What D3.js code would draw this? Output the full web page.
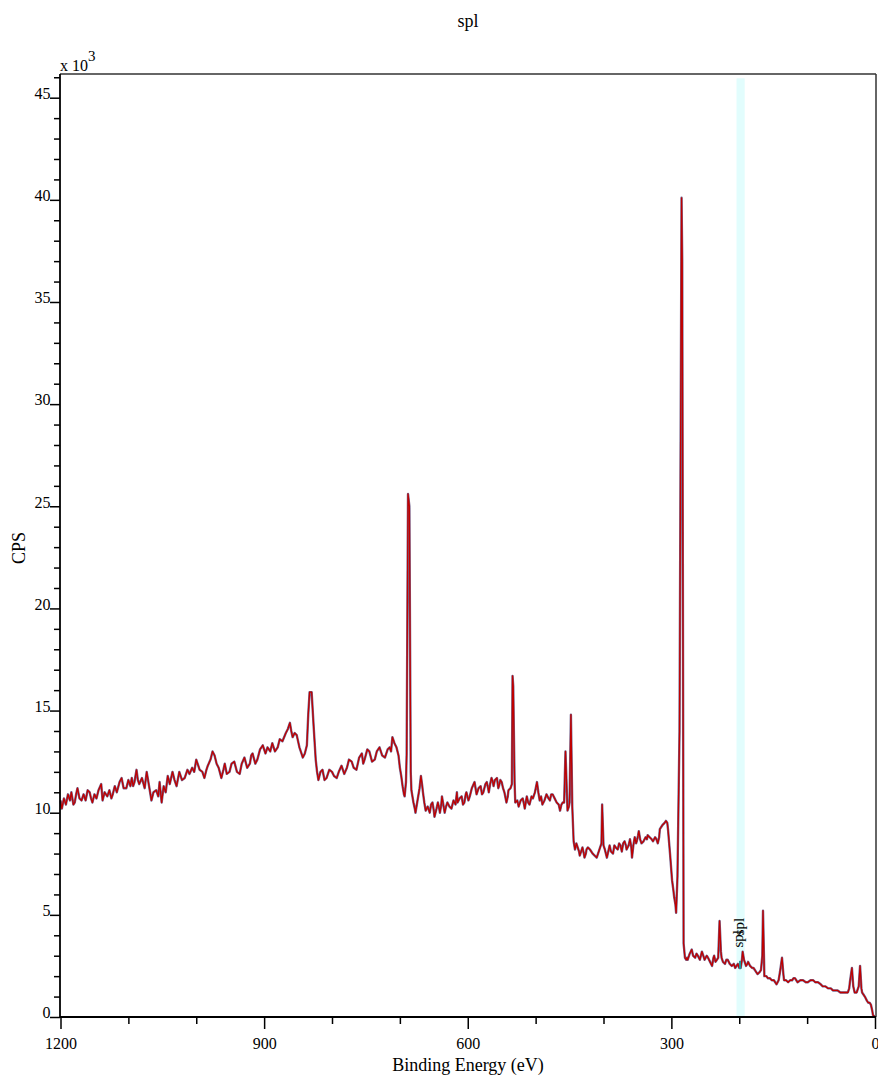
<!DOCTYPE html>
<html>
<head>
<meta charset="utf-8">
<script src="https://cdn.jsdelivr.net/npm/d3@7"></script>
<style>
  html, body { margin: 0; padding: 0; background: #fff; }
  svg { display: block; }
  text { font-family: "Liberation Serif", "Times New Roman", serif; fill: #000; }
</style>
</head>
<body>
<svg id="chart" width="878" height="1079"></svg>
<script>
// [binding energy (eV), intensity (CPS x 10^3)], in three spectral segments
const spectrumHigh = [
  [1200,10.6],[1198,10.2],[1195,10.7],[1192,10.4],[1189,10.9],[1186,10.6],[1184,11.0],[1181,10.4],[1179,10.5],[1177,10.9],
  [1175,11.2],[1172,10.7],[1169,10.6],[1166,10.9],[1163,10.6],[1160,11.1],[1157,11.0],[1155,10.7],[1153,10.5],[1150,10.9],
  [1147,10.7],[1144,11.1],[1140,11.4],[1138,10.6],[1135,11.0],[1131,10.8],[1128,11.1],[1125,10.7],[1123,10.9],[1120,11.3],
  [1117,11.0],[1113,11.5],[1110,11.7],[1107,11.2],[1103,11.2],[1100,11.6],[1097,11.3],[1095,11.7],[1093,11.3],[1091,11.5],
  [1088,12.1],[1086,11.6],[1084,11.4],[1080,11.7],[1076,11.2],[1073,12.0],[1070,11.4],[1068,11.0],[1066,10.6],[1063,11.0],
  [1059,11.1],[1056,10.8],[1054,11.5],[1051,10.5],[1048,11.3],[1045,11.0],[1042,11.8],[1039,11.4],[1035,12.0],[1032,11.6],
  [1029,11.3],[1025,12.0],[1021,11.6],[1017,11.7],[1013,12.1],[1010,11.9],[1006,12.2],[1003,12.0],[1000,12.6],[997,12.3],
  [995,12.1],[991,12.0],[988,11.7],[985,12.1],[983,12.3],[979,12.6],[976,13.0],[973,12.8],[970,12.4],[967,12.2],
  [963,11.7],[960,12.1],[958,12.4],[955,11.9],[951,12.0],[948,12.4],[944,12.5],[940,12.0],[936,11.9],[933,12.4],
  [929,12.7],[925,12.2],[921,12.4],[919,12.8],[917,12.9],[913,12.4],[910,12.6],[906,13.1],[902,13.3],[898,12.9],
  [895,13.2],[891,13.0],[888,13.4],[884,13.0],[880,13.2],[877,13.6],[873,13.5],[868,13.9],[865,14.1],[862,14.4],
  [860,14.0],[858,13.7],[855,13.9],[852,13.8],[848,13.2],[845,12.9],[843,12.7],[840,12.9],[837,13.3],[835,14.8],
  [833,15.9],[830,15.9],[827,14.2],[824,12.6],[822,12.0],[820,11.6],[817,12.0],[814,12.1],[811,11.6],[808,11.7],
  [804,12.1],[800,12.0],[797,11.8],[793,11.7],[790,12.0],[786,12.3],[782,11.9],[778,12.2],[775,12.6],[771,12.5],
  [768,12.2],[764,12.1],[760,12.7],[756,12.9],[754,12.4],[752,12.6],[748,13.1],[745,13.0],[741,12.5],[737,12.6],
  [734,13.0],[730,13.2],[726,12.8],[722,12.7],[718,13.1],[715,13.2],[713,13.0],[711,13.7],[708,13.4],[705,13.2],
  [702,12.8],[700,12.2],[698,11.8],[696,11.3],[694,10.9],[693,10.8],[691,11.5],[690,12.9],[688,25.6],[686,25.0],
  [684,12.0]
];
const spectrumMid = [
  [683,11.1],[680,10.5],[678,10.2],[677,10.0],[674,10.6],[671,11.2],[669,11.8],[667,11.3],[666,11.0],[664,10.5],
  [662,10.1],[659,10.3],[656,10.0],[654,10.4],[652,10.5],[650,10.1],[649,9.8],[646,10.2],[644,10.5],[642,10.2],
  [641,10.0],[639,10.4],[638,10.8],[636,10.4],[634,10.0],[632,10.3],[630,10.5],[627,10.3],[624,10.2],[621,10.6],
  [618,10.4],[616,11.0],[615,10.5],[612,10.7],[609,10.8],[607,10.4],[605,10.5],[603,10.9],[602,11.0],[599,10.6],
  [597,10.8],[594,11.2],[590,11.5],[588,11.1],[587,10.9],[584,11.2],[581,11.3],[579,10.9],[577,11.0],[574,11.4],
  [572,11.5],[570,11.2],[569,11.0],[567,11.4],[565,11.7],[563,11.5],[562,11.3],[560,11.6],[557,11.7],[555,11.2],
  [554,11.3],[552,11.6],[550,11.5],[548,11.2],[546,11.0],[543,10.5],[541,10.8],[540,11.1],[537,11.2],[535,11.4],
  [534,16.7],[533,16.2],[531,11.5],[530,10.5],[527,10.6],[525,10.3],[522,10.6],[519,10.7],[517,10.4],[516,10.2],
  [514,10.6],[513,10.8],[511,10.5],[509,10.4],[506,10.8],[504,10.7],[501,11.0],[498,11.5],[496,11.0],[494,10.6],
  [492,10.8],[490,10.4],[487,10.6],[484,10.9],[481,10.7],[479,10.6],[477,10.9],[475,10.9],[472,10.7],[469,10.5],
  [466,10.4],[464,10.1],[462,10.4],[460,10.5],[458,10.5],[456,13.0],[454,11.0],[453,10.1],[451,10.3],[450,10.5],
  [448,14.8],[446,10.3],[444,8.6],[442,8.2],[440,8.5],[438,8.3],[436,8.1],[435,7.9],[433,8.1],[431,8.3],
  [429,8.0],[428,7.8],[426,8.0],[425,8.2],[423,8.3],[420,8.2],[418,8.1],[416,8.0],[413,7.9],[410,7.8],
  [408,8.0],[405,8.3],[403,8.5],[402,10.4],[400,8.4],[398,8.2],[395,7.8],[393,8.1],[391,8.4],[389,8.1],
  [386,8.0],[384,8.4],[382,8.3],[379,8.2],[377,8.5],[375,8.4],[373,8.1],[371,8.5],[369,8.6],[367,8.4],
  [366,8.2],[363,8.4],[361,8.7],[359,8.3],[358,7.8],[356,8.4],[354,8.8],[352,8.5],[351,8.6],[349,8.9],
  [348,9.1],[346,8.7],[344,8.5],[341,8.6],[338,8.8],[336,8.7],[335,8.9],[332,8.8],[329,8.7],[327,8.6],
  [324,8.8],[322,8.7],[320,8.5],[318,8.8],[317,9.2],[315,9.3],[313,9.4],[310,9.5],[308,9.6],[306,9.5],
  [305,9.2],[302,8.0],[299,6.7],[297,6.2],[296,5.9],[294,5.5],[293,5.1],[291,6.9],[288,14.0],[285,40.1],
  [284,37.0],[282,3.6]
];
const spectrumLow = [
  [280,2.9],[278,2.8],[277,2.9],[276,2.8],[273,3.1],[270,3.3],[268,3.0],[265,2.9],[263,3.1],[261,3.0],
  [258,2.8],[255,3.2],[253,3.0],[251,2.8],[248,3.0],[246,2.9],[243,2.7],[240,2.5],[238,2.9],[237,3.0],
  [235,2.7],[233,2.8],[231,2.9],[229,4.7],[227,3.2],[226,2.9],[224,2.7],[221,2.6],[219,2.8],[217,2.8],
  [214,2.6],[211,2.5],[208,2.6],[206,2.4],[204,2.5],[202,2.6],[200,2.4],[198,2.4],[196,2.8],[195,3.2],
  [193,2.8],[190,2.5],[188,2.6],[187,2.7],[184,2.5],[181,2.4],[179,2.4],[177,2.3],[175,2.2],[173,2.1],
  [170,2.2],[168,2.3],[166,3.0],[165,5.2],[163,2.0],[160,2.0],[158,1.9],[155,1.9],[152,1.8],[149,1.8],
  [147,1.7],[145,1.6],[142,1.8],[140,2.2],[137,2.9],[135,2.1],[134,1.8],[131,1.8],[128,1.7],[125,1.8],
  [122,1.8],[120,1.9],[118,1.9],[116,1.8],[114,1.7],[110,1.8],[106,1.8],[102,1.7],[99,1.7],[95,1.8],
  [91,1.8],[88,1.7],[84,1.7],[80,1.6],[77,1.5],[73,1.5],[69,1.4],[65,1.4],[62,1.3],[58,1.3],
  [55,1.3],[51,1.2],[47,1.2],[43,1.2],[40,1.2],[38,1.4],[37,1.7],[34,2.4],[32,1.5],[30,1.2],
  [27,1.2],[24,1.5],[22,2.5],[20,1.4],[19,1.2],[17,1.1],[15,1.0],[12,0.8],[10,0.7],[8,0.7],
  [6,0.6],[4,0.3],[3,0.1],[0,0]
];
const xMajorTicks = [1200, 900, 600, 300, 0];
const xMinorTicks = [1100, 1000, 800, 700, 500, 400, 200, 100];
const yMajorTicks = [0, 5, 10, 15, 20, 25, 30, 35, 40, 45];
const yMinorTicks = [1,2,3,4,6,7,8,9,11,12,13,14,16,17,18,19,21,22,23,24,26,27,28,29,31,32,33,34,36,37,38,39,41,42,43,44,46];
const regionBand = [192, 204];       // highlighted region (eV)
const peakLabels = [{ text: "spl", be: 194.2, k: 3.4 }, { text: "spl", be: 193.4, k: 4.0 }];
const chartTitle = "spl";
const xTitle = "Binding Energy (eV)";
const yTitle = "CPS";

const svg = d3.select("#chart");
const x = d3.scaleLinear().domain([1200, 0]).range([60.5, 875]);
const y = d3.scaleLinear().domain([0, 46.16]).range([1017, 74]);

// highlighted region
svg.append("rect")
  .attr("x", x(regionBand[1]))
  .attr("y", y(45.95))
  .attr("width", x(regionBand[0]) - x(regionBand[1]))
  .attr("height", y(0) - y(45.95))
  .attr("fill", "#e2fdfd");

// frame (top & right)
svg.append("line").attr("x1", 60).attr("x2", 876).attr("y1", 74).attr("y2", 74)
  .attr("stroke", "#333").attr("stroke-width", 1.5);
svg.append("line").attr("x1", 876).attr("x2", 876).attr("y1", 74).attr("y2", 1017)
  .attr("stroke", "#333").attr("stroke-width", 1.5);

// data line
const data = spectrumHigh.concat(spectrumMid, spectrumLow);
const line = d3.line().x(d => x(d[0])).y(d => y(d[1]));
svg.append("path").datum(data).attr("d", line)
  .attr("fill", "none").attr("stroke", "#75668f").attr("stroke-width", 2.4)
  .attr("stroke-linejoin", "round");
svg.append("path").datum(data).attr("d", line)
  .attr("fill", "none").attr("stroke", "#c00000").attr("stroke-width", 1.3)
  .attr("stroke-linejoin", "round");

// small marker in the region
svg.append("line")
  .attr("x1", x(198.8)).attr("x2", x(198.8))
  .attr("y1", y(2.35)).attr("y2", y(2.75))
  .attr("stroke", "#1a9a9a").attr("stroke-width", 2);

// peak labels
peakLabels.forEach(p => {
  svg.append("text")
    .attr("transform", `translate(${x(p.be)},${y(p.k)}) rotate(-90)`)
    .attr("font-size", 15)
    .text(p.text);
});

// Y axis
const yAxis = svg.append("g").attr("transform", "translate(60,0)")
  .call(d3.axisLeft(y).tickValues(yMajorTicks).tickSize(10).tickSizeOuter(0).tickPadding(0).tickFormat(d3.format("d")));
yAxis.select(".domain").attr("stroke", "#000").attr("stroke-width", 1.8)
  .attr("d", `M0,${y(0)}V74`);
yAxis.selectAll(".tick line").attr("stroke-width", 1.5);
yAxis.selectAll(".tick text")
  .attr("font-family", "Liberation Serif, serif").attr("font-size", 16)
  .attr("dy", "0.05em").attr("x", -9.5);
svg.append("g").attr("transform", "translate(60,0)")
  .call(d3.axisLeft(y).tickValues(yMinorTicks).tickSize(6).tickSizeOuter(0).tickFormat(""))
  .call(g => g.select(".domain").remove())
  .selectAll(".tick line").attr("stroke-width", 1.5);

// X axis
const xAxis = svg.append("g").attr("transform", "translate(0,1017)")
  .call(d3.axisBottom(x).tickValues(xMajorTicks).tickSize(12).tickSizeOuter(0).tickPadding(0).tickFormat(d3.format("d")));
xAxis.select(".domain").attr("stroke", "#000").attr("stroke-width", 1.8)
  .attr("d", `M60,0H876`);
xAxis.selectAll(".tick line").attr("stroke-width", 1.5);
xAxis.selectAll(".tick text")
  .attr("font-family", "Liberation Serif, serif").attr("font-size", 16)
  .attr("dy", 0).attr("y", 32);
svg.append("g").attr("transform", "translate(0,1017)")
  .call(d3.axisBottom(x).tickValues(xMinorTicks).tickSize(7).tickSizeOuter(0).tickFormat(""))
  .call(g => g.select(".domain").remove())
  .selectAll(".tick line").attr("stroke-width", 1.5);

// multiplier
const mult = svg.append("text").attr("x", 60).attr("y", 71).attr("font-size", 16);
mult.append("tspan").text("x 10");
mult.append("tspan").attr("dy", -10).attr("font-size", 15).text("3");

// titles
svg.append("text").attr("x", 468).attr("y", 27).attr("text-anchor", "middle")
  .attr("font-size", 18).text(chartTitle);
svg.append("text").attr("x", 468).attr("y", 1071).attr("text-anchor", "middle")
  .attr("font-size", 18).text(xTitle);
svg.append("text").attr("transform", "translate(25,548) rotate(-90)")
  .attr("text-anchor", "middle").attr("font-size", 18).text(yTitle);
</script>
</body>
</html>
